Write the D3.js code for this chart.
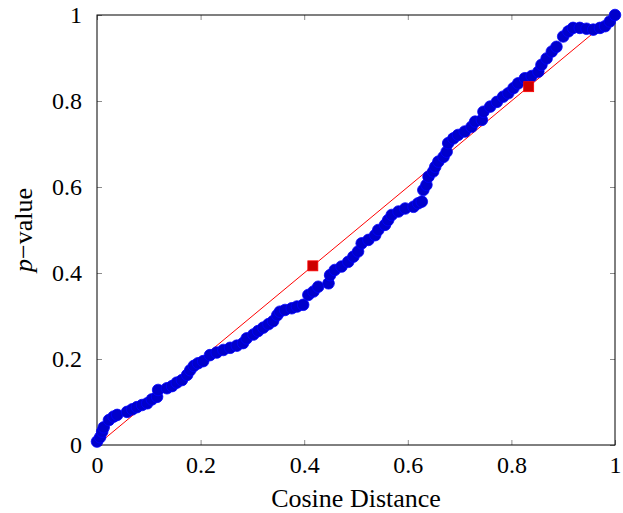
<!DOCTYPE html>
<html><head><meta charset="utf-8">
<script src="https://cdn.jsdelivr.net/npm/d3@7"></script>
<style>body{margin:0;background:#fff}text{font-family:"Liberation Serif","Times New Roman",serif}</style>
</head><body><svg id="c" width="623" height="513"></svg>
<script>
const cosineX = [0.000,0.006,0.010,0.013,0.023,0.032,0.039,0.058,0.068,0.077,0.087,0.097,0.106,0.116,0.118,0.135,0.145,0.154,0.164,0.174,0.180,0.187,0.195,
0.205,0.218,0.231,0.244,0.257,0.270,0.282,0.289,0.302,0.311,0.321,0.331,0.340,0.348,0.353,0.363,0.376,0.386,0.398,
0.408,0.418,0.427,0.447,0.450,0.459,0.472,0.485,0.495,0.504,0.511,0.524,0.537,0.543,0.556,0.562,0.569,0.582,0.595,0.611,0.620,0.627,
0.630,0.636,0.640,0.649,0.653,0.659,0.669,0.675,0.678,0.688,0.697,0.710,0.723,0.730,0.743,0.746,0.759,0.772,0.784,0.794,0.804,0.813,
0.826,0.839,0.852,0.858,0.868,0.878,0.887,0.900,0.910,0.919,0.932,0.945,0.958,0.971,0.981,0.990,1.000];
const pValue = [0.008,0.018,0.031,0.041,0.058,0.066,0.070,0.077,0.083,0.088,0.093,0.097,0.106,0.112,0.128,0.132,0.137,0.145,0.151,0.163,0.174,0.184,0.190,
0.195,0.209,0.215,0.221,0.226,0.231,0.237,0.248,0.257,0.265,0.273,0.281,0.288,0.302,0.310,0.314,0.318,0.322,0.326,
0.349,0.357,0.368,0.376,0.395,0.407,0.415,0.426,0.438,0.450,0.469,0.477,0.488,0.500,0.512,0.523,0.535,0.543,0.550,0.554,0.562,0.566,
0.593,0.605,0.624,0.636,0.647,0.659,0.670,0.682,0.702,0.713,0.721,0.729,0.740,0.752,0.756,0.775,0.787,0.798,0.810,0.818,0.830,0.841,
0.853,0.858,0.868,0.884,0.899,0.915,0.926,0.950,0.962,0.970,0.970,0.968,0.966,0.970,0.974,0.985,1.000];
const refLineX = [0, 1];
const refLineY = [0, 1];
const refMarkX = [5/12, 10/12];
const refMarkY = [5/12, 10/12];
const xTicks = [0, 0.2, 0.4, 0.6, 0.8, 1];
const yTicks = [0, 0.2, 0.4, 0.6, 0.8, 1];

const L = 97, R = 615, T = 15, B = 445;
const FS = 24, LFS = 26;
const svg = d3.select("#c");
const x = d3.scaleLinear().domain([0,1]).range([L,R]);
const y = d3.scaleLinear().domain([0,1]).range([B,T]);
const fmt = d => d === 0 ? "0" : d === 1 ? "1" : String(d);

// ticks inward on all sides
const tickLen = 5;
const gx = svg.append("g").attr("transform",`translate(0,${B})`)
  .call(d3.axisBottom(x).tickValues(xTicks).tickFormat(fmt).tickSizeInner(-tickLen).tickSizeOuter(0).tickPadding(11));
const gy = svg.append("g").attr("transform",`translate(${L},0)`)
  .call(d3.axisLeft(y).tickValues(yTicks).tickFormat(fmt).tickSizeInner(-tickLen).tickSizeOuter(0).tickPadding(15));
const gt = svg.append("g").attr("transform",`translate(0,${T})`)
  .call(d3.axisTop(x).tickValues(xTicks).tickFormat("").tickSizeInner(-tickLen).tickSizeOuter(0));
const gr = svg.append("g").attr("transform",`translate(${R},0)`)
  .call(d3.axisRight(y).tickValues(yTicks).tickFormat("").tickSizeInner(-tickLen).tickSizeOuter(0));
[gx,gy,gt,gr].forEach(g=>{
  g.select(".domain").remove();
  g.selectAll(".tick line").attr("stroke","#8c8c8c").attr("stroke-width",1);
  g.selectAll(".tick text").attr("font-size",FS).attr("fill","#000").attr("font-family","Liberation Serif");
});
svg.append("rect").attr("x",L).attr("y",T).attr("width",R-L).attr("height",B-T)
  .attr("fill","none").attr("stroke","#000").attr("stroke-width",1);

// reference line
const line = d3.line().x(d=>x(d[0])).y(d=>y(d[1]));
svg.append("path").datum(refLineX.map((v,i)=>[v,refLineY[i]]))
  .attr("d",line).attr("fill","none").attr("stroke","#ff0000").attr("stroke-width",1);

// blue points
svg.append("g").selectAll("circle").data(cosineX.map((v,i)=>[v,pValue[i]])).join("circle")
  .attr("cx",d=>x(d[0])).attr("cy",d=>y(d[1])).attr("r",5.8)
  .attr("fill","#0000cc").attr("stroke","#0000ff").attr("stroke-width",0.8);

// red square marks
const s = 10;
svg.append("g").selectAll("rect").data(refMarkX.map((v,i)=>[v,refMarkY[i]])).join("rect")
  .attr("x",d=>x(d[0])-s/2).attr("y",d=>y(d[1])-s/2).attr("width",s).attr("height",s)
  .attr("fill","#cc0000").attr("stroke","#ff0000").attr("stroke-width",0.8);

// axis labels
svg.append("text").attr("x",(L+R)/2).attr("y",507).attr("text-anchor","middle")
  .attr("font-size",LFS).text("Cosine Distance");
const yl = svg.append("text").attr("transform",`translate(32,${(T+B)/2}) rotate(-90)`)
  .attr("text-anchor","middle").attr("font-size",LFS);
yl.append("tspan").attr("font-style","italic").text("p");
yl.append("tspan").text("\u2212value");
</script></body></html>
